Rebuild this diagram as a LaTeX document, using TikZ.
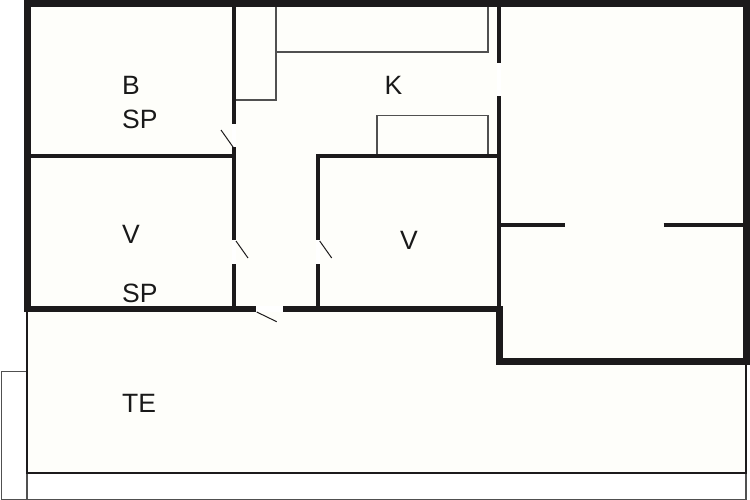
\documentclass[tikz,border=0pt]{standalone}
\usepackage{fontspec}
\setmainfont{Liberation Sans}
\definecolor{floorc}{HTML}{FEFEFA}
\definecolor{wallc}{HTML}{1C1A1B}
\definecolor{furnc}{HTML}{505050}
\tikzset{
  thickwall/.style={draw=none,fill=wallc},
  wall/.style={draw=wallc,line width=4pt},
  gapc/.style={draw=none,fill=white},
  furn/.style={draw=furnc,line width=1.2pt},
  swing/.style={draw=wallc,line width=1pt},
  outline/.style={draw=wallc,line width=1.3pt},
  thin/.style={draw=furnc,line width=1.2pt},
  roomlabel/.style={anchor=base west,inner sep=0pt,font=\fontsize{26.5}{26.5}\selectfont,text=black!90}
}
\begin{document}
\begin{tikzpicture}[x=1pt,y=-1pt]
\useasboundingbox (0,0) rectangle (750,500);
\fill[white] (0,0) rectangle (750,500);
% floor
\fill[floorc] (27,3) -- (746,3) -- (746,473) -- (27,473) -- cycle;
% porch and steps
\draw[thin] (27,371.5) -- (1.5,371.5) -- (1.5,499.3) -- (746,499.3) -- (746,473);
\draw[thin] (27,473) -- (27,499.3);
\draw[outline] (27,312) -- (27,473) -- (746,473) -- (746,365);
% furniture
\draw[furn] (236,100) -- (276,100) -- (276,7);
\draw[furn] (276,52) -- (488,52) -- (488,7);
\draw[furn] (377,154) -- (377,115.5) -- (488,115.5) -- (488,154);
% thick outer walls
\fill[thickwall] (24,0) rectangle (750,7);
\fill[thickwall] (24,0) rectangle (31,312);
\fill[thickwall] (743,0) rectangle (750,365);
\fill[thickwall] (496,358) rectangle (750,365);
\fill[thickwall] (496,305.5) rectangle (503,365);
\fill[thickwall] (24,305.5) rectangle (256,312);
\fill[thickwall] (283,305.5) rectangle (503,312);
% inner walls
\draw[wall] (234.3,7) -- (234.3,124);
\draw[wall] (234.3,147) -- (234.3,240);
\draw[wall] (234.3,263.5) -- (234.3,306);
\draw[wall] (31,156) -- (234.3,156);
\draw[wall] (317.8,154) -- (317.8,240);
\draw[wall] (317.8,263.5) -- (317.8,306);
\draw[wall] (316,156) -- (501,156);
\draw[wall] (499.3,7) -- (499.3,63);
\draw[wall] (499.3,96) -- (499.3,306);
\draw[wall] (501,225) -- (565,225);
\draw[wall] (663.5,225) -- (743,225);
% openings
\fill[gapc] (232.3,124) rectangle (236.3,147);
\fill[gapc] (232.3,240) rectangle (236.3,263.5);
\fill[gapc] (315.8,240) rectangle (319.8,263.5);
\fill[gapc] (497.3,63) rectangle (501.3,96);
\fill[gapc] (256,305.5) rectangle (283,312);
% door swings
\draw[swing] (233,147) -- (221,130);
\draw[swing] (236,241) -- (248,258);
\draw[swing] (319.7,241) -- (331.7,258);
\draw[swing] (256.7,312) -- (276.7,321.7);
% labels
\node[roomlabel] (lb) at (122,95) {B};
\node[roomlabel] (lsp1) at (122,129) {SP};
\node[roomlabel] (lk) at (384.5,95) {K};
\node[roomlabel] (lv1) at (122,243.5) {V};
\node[roomlabel] (lsp2) at (122,302.5) {SP};
\node[roomlabel] (lv2) at (400,249) {V};
\node[roomlabel] (lte) at (122,412.5) {TE};
\end{tikzpicture}
\end{document}
